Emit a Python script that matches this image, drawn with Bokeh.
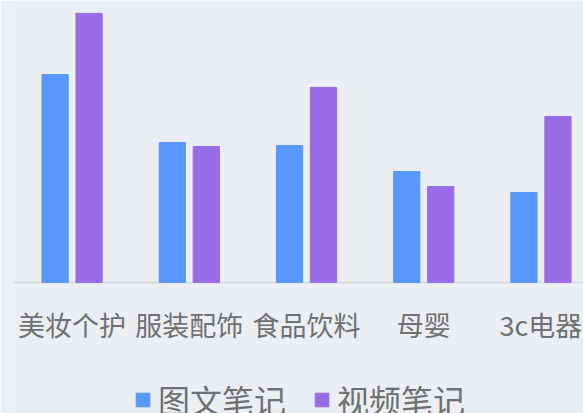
import numpy as np
from bokeh.plotting import figure
from bokeh.models import Range1d, Legend, LegendItem, Span
from bokeh.core.properties import value
from bokeh.embed import file_html
from bokeh.resources import INLINE

categories = ["美妆个护", "服装配饰", "食品饮料", "母婴", "3c电器"]
series_names = ["图文笔记", "视频笔记"]
tuwen = [75.9, 51.1, 50.0, 40.5, 32.8]
shipin = [98.2, 49.6, 71.2, 35.0, 60.6]

BG = "#ebeff3"
BLUE = "#5897fb"
PURPLE = "#976ce6"
TXT = "#707070"
FONT = "Noto Sans CJK SC"

idx = np.arange(len(categories)) + 0.5
bar_w = 0.224
off = 0.145
label_y = -15.5

p = figure(width=583, height=413, output_backend="svg", toolbar_location=None,
           x_range=Range1d(0, 4.863), y_range=Range1d(-47.8, 102.9),
           x_axis_location=None, y_axis_location=None,
           min_border_left=13, min_border_right=0, min_border_top=0, min_border_bottom=0)
p.background_fill_color = BG
p.border_fill_color = BG
p.outline_line_color = None
p.xgrid.visible = False
p.ygrid.visible = False

p.add_layout(Span(location=0, dimension="width", line_color="#dcdcdc",
                  line_width=2, level="underlay"))

r1 = p.vbar(x=idx - off, top=tuwen, width=bar_w, color=BLUE)
r2 = p.vbar(x=idx + off, top=shipin, width=bar_w, color=PURPLE)

p.text(x=idx, y=[label_y] * len(categories), text=categories,
       text_align="center", text_baseline="middle",
       text_font=value(FONT), text_font_size="27px", text_color=TXT)

legend = Legend(items=[LegendItem(label=series_names[0], renderers=[r1]),
                       LegendItem(label=series_names[1], renderers=[r2])],
                orientation="horizontal", location=(121, -9),
                glyph_width=17, glyph_height=17, label_standoff=7, spacing=27,
                label_height=38,
                padding=0, margin=0, border_line_color=None,
                background_fill_alpha=0,
                label_text_font=FONT, label_text_font_size="32px",
                label_text_color=TXT)
p.add_layout(legend, "center")

html = file_html(p, INLINE)
html = html.replace("<body>", '<body style="background:%s">' % BG, 1)
open("out.html", "w").write(html)
